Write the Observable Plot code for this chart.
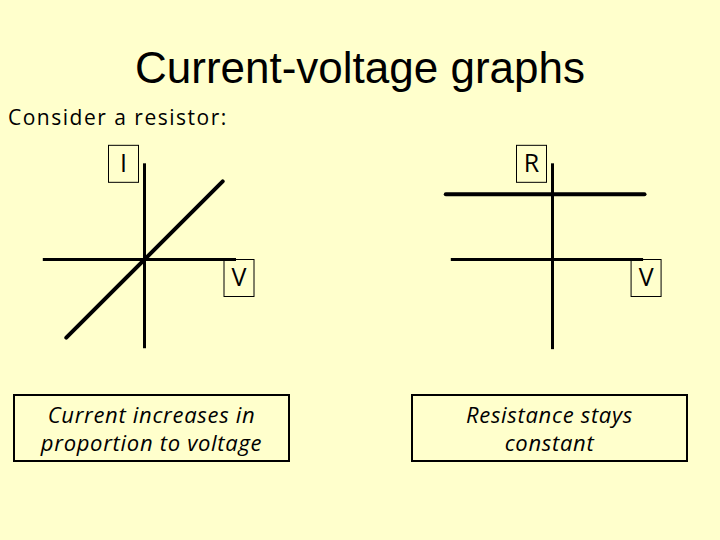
<!DOCTYPE html>
<html>
<head>
<meta charset="utf-8">
<script src="https://cdn.jsdelivr.net/npm/d3@7"></script>
<script src="https://cdn.jsdelivr.net/npm/@observablehq/plot@0.6"></script>
<style>
  html, body { margin: 0; padding: 0; background: #ffffcc; }
  #page { position: relative; width: 720px; height: 540px; overflow: hidden; background: #ffffcc; color: #000; }
  #title { position: absolute; left: 0; top: 41px; width: 720px; text-align: center;
           font-family: "Liberation Sans", Arial, sans-serif; font-size: 44px; line-height: 54px; }
  #sub { position: absolute; left: 8px; top: 102px; font-family: "Open Sans", sans-serif; font-size: 21px; letter-spacing: 1.5px; line-height: 30px; }
  .plot { position: absolute; top: 140px; }
  .cap { position: absolute; top: 394px; width: 277px; height: 68px; box-sizing: border-box; border: 2px solid #000;
         display: flex; flex-direction: column; justify-content: center; align-items: center;
         font-family: "Open Sans", sans-serif; font-style: italic; font-size: 22px; letter-spacing: 0.7px; line-height: 28px; }
</style>
</head>
<body>
<div id="page">
  <div id="title"></div>
  <div id="sub"></div>
  <div id="left" class="plot" style="left:0px"></div>
  <div id="right" class="plot" style="left:400px"></div>
  <div id="capL" class="cap" style="left:13px"></div>
  <div id="capR" class="cap" style="left:411px"></div>
</div>
<script>
// ---- text ----
const titleText = "Current-voltage graphs";
const subtitleText = "Consider a resistor:";
const captionLeft = ["Current increases in", "proportion to voltage"];
const captionRight = ["Resistance stays", "constant"];

// ---- left diagram: I against V for a resistor (R = 1) ----
const ivVAxis = [-1.1, 1.0];      // extent of V axis
const ivIAxis = [-0.97, 1.04];    // extent of I axis
const ivV = [-0.85, 0.85];        // voltage values
const ivI = [-0.85, 0.85];        // current values (I = V / R)

// ---- right diagram: R against V ----
const rvVAxis = [-1.1, 0.99];
const rvRAxis = [-0.98, 1.04];
const rvV = [-1.16, 1.0];
const rvR = [0.71, 0.71];         // resistance stays constant

// axis letters
const ivLabels = ["I", "V"];
const rvLabels = ["R", "V"];

document.getElementById("title").textContent = titleText;
document.getElementById("sub").textContent = subtitleText;
document.getElementById("capL").innerHTML = captionLeft.map(s => `<div>${s}</div>`).join("");
document.getElementById("capR").innerHTML = captionRight.map(s => `<div>${s}</div>`).join("");

const UNIT = 92; // pixels per unit
const W = 300, H = 220;

function diagram(vAxis, yAxis, xs, ys, labels, originX, lineWidth) {
  const originY = 119;
  const series = xs.map((v, i) => ({V: v, Y: ys[i]}));
  const labelData = [
    {x: 0, y: yAxis[1], t: labels[0], dx: -21, dy: 0},
    {x: vAxis[1], y: 0, t: labels[1], dx: 2.5, dy: 18.5}
  ];
  return Plot.plot({
    width: W, height: H, margin: 0,
    style: {background: "transparent", overflow: "visible"},
    x: {domain: [-originX / UNIT, (W - originX) / UNIT], axis: null},
    y: {domain: [-(H - originY) / UNIT, originY / UNIT], axis: null},
    marks: [
      Plot.ruleY([0], {x1: vAxis[0], x2: vAxis[1], stroke: "#000", strokeWidth: 3}),
      Plot.ruleX([0], {y1: yAxis[0], y2: yAxis[1], stroke: "#000", strokeWidth: 3}),
      Plot.line(series, {x: "V", y: "Y", stroke: "#000", strokeWidth: lineWidth}),
      ...labelData.map(d => Plot.text([d], {
        x: "x", y: "y", text: "t", dx: d.dx, dy: d.dy,
        fontSize: 25, fontFamily: "Open Sans, sans-serif", fill: "#000"
      }))
    ]
  });
}

function num(v) { const n = Number(v); return Number.isFinite(n) ? n : 0; }

function addBoxes(svg) {
  svg.querySelectorAll('text').forEach(t => {
    const r = document.createElementNS("http://www.w3.org/2000/svg", "rect");
    const tx = num(t.getAttribute("x")), ty = num(t.getAttribute("y"));
    r.setAttribute("x", tx - 15);
    r.setAttribute("y", ty - 18.5);
    r.setAttribute("width", 30);
    r.setAttribute("height", 37);
    r.setAttribute("fill", "none");
    r.setAttribute("stroke", "#000");
    r.setAttribute("stroke-width", 1);
    const tr = t.getAttribute("transform");
    if (tr) r.setAttribute("transform", tr);
    t.parentNode.insertBefore(r, t);
  });
}

const left = diagram(ivVAxis, ivIAxis, ivV, ivI, ivLabels, 144, 4);
document.getElementById("left").appendChild(left);
addBoxes(left);

const right = diagram(rvVAxis, rvRAxis, rvV, rvR, rvLabels, 152, 4);
document.getElementById("right").appendChild(right);
addBoxes(right);
</script>
</body>
</html>
